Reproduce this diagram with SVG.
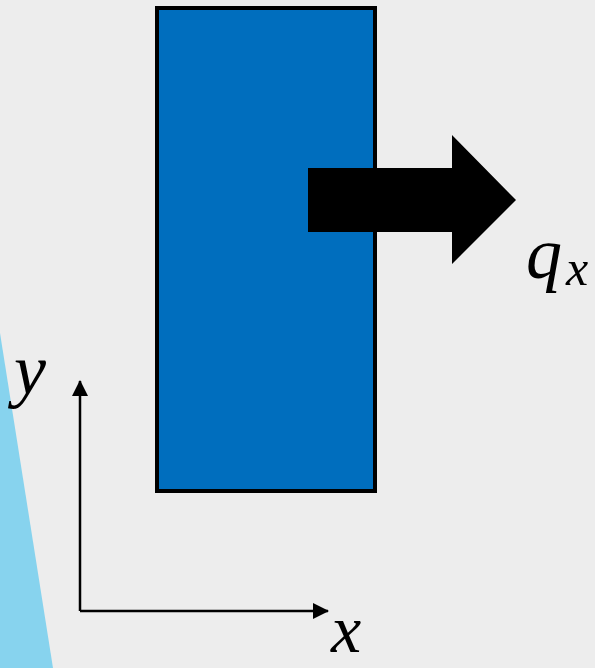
<svg xmlns="http://www.w3.org/2000/svg" width="595" height="668" viewBox="0 0 595 668">
<style>
.lbl{font-family:"Liberation Serif","DejaVu Serif",serif;font-style:italic;fill:#000}
.axis{stroke:#000;stroke-width:2.5;fill:none}
</style>
<defs>
<marker id="ah" markerWidth="16" markerHeight="16" refX="15" refY="8" orient="auto" markerUnits="userSpaceOnUse">
<path d="M0,0 L16,8 L0,16 Z" fill="#000"/>
</marker>
</defs>
<rect x="0" y="0" width="595" height="668" fill="#ededed"/>
<polygon points="0,333 53,668 0,668" fill="#87d3ee"/>
<g id="block">
<rect x="157" y="8" width="218" height="483" fill="#006ebe" stroke="#000" stroke-width="4"/>
</g>
<g id="flux">
<polygon points="308,168 452,168 452,135 516,200 452,264 452,232 308,232" fill="#000"/>
<text class="lbl" x="526" y="278" font-size="72">q</text>
<text class="lbl" x="566" y="285" font-size="50">x</text>
</g>
<g id="connectors">
<path class="axis" d="M80,611 L80,381" marker-end="url(#ah)"/>
<path class="axis" d="M80,611 L328,611" marker-end="url(#ah)"/>
</g>
<g id="labels">
<text class="lbl" x="14" y="394" font-size="72">y</text>
<text class="lbl" x="331" y="652" font-size="68">x</text>
</g>
</svg>
